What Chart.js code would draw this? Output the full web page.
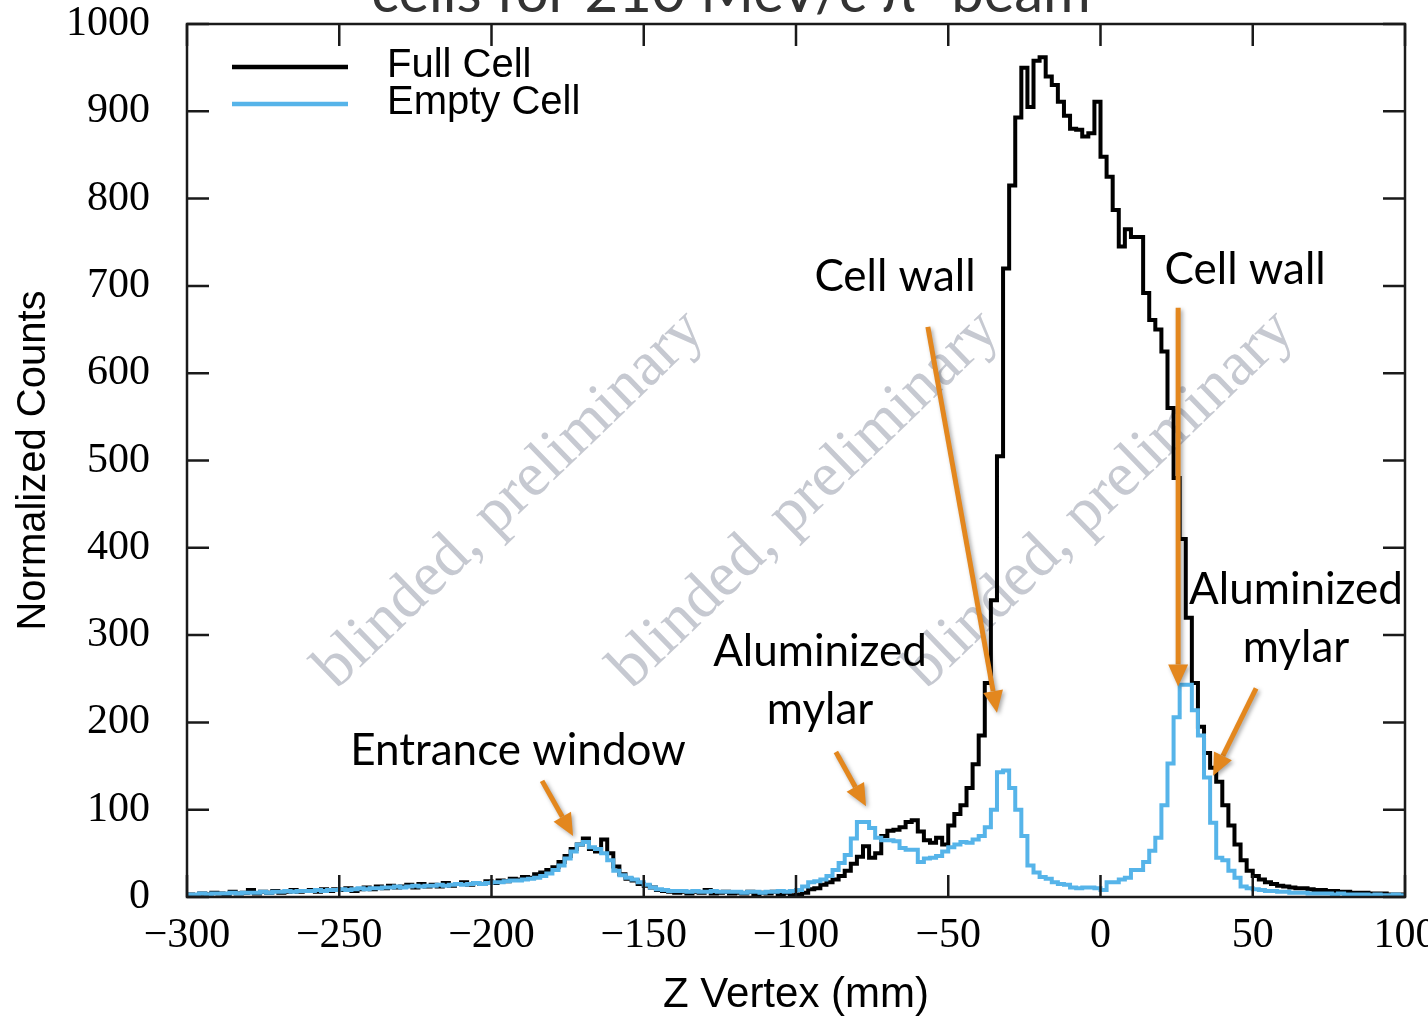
<!DOCTYPE html>
<html>
<head>
<meta charset="utf-8">
<script src="https://cdn.jsdelivr.net/npm/chart.js@4.4.0/dist/chart.umd.min.js"></script>
<style>
  html, body { margin: 0; padding: 0; background: #fff; }
  canvas { display: block; }
</style>
</head>
<body>
<canvas id="vertexChart" width="1428" height="1017"></canvas>
<script>
// histogram binning (mm)
const zStart = -300;
const binWidth = 2;

const xTicks = [-300, -250, -200, -150, -100, -50, 0, 50, 100];
const yTicks = [0, 100, 200, 300, 400, 500, 600, 700, 800, 900, 1000];

// normalized counts per 2 mm bin
const fullCell = [
  3, 2, 4, 3, 5, 4, 3, 6, 4, 5,            // -300
  8, 4, 6, 5, 7, 5, 6, 8, 6, 7,            // -280
  8, 6, 9, 7, 9, 8, 10, 7, 9, 11,          // -260
  9, 12, 10, 13, 11, 12, 14, 11, 15, 12,   // -240
  14, 12, 16, 13, 15, 17, 14, 16, 15, 18,  // -220
  16, 19, 18, 21, 20, 23, 22, 26, 28, 31,  // -200
  34, 40, 47, 55, 60, 67, 55, 52, 66, 50,  // -180
  35, 26, 21, 19, 15, 13, 11, 8, 7, 6,     // -160
  5, 6, 4, 6, 5, 8, 4, 5, 6, 4,            // -140
  5, 4, 6, 3, 5, 4, 6, 3, 5, 2,            // -120
  3, 5, 9, 10, 14, 17, 20, 24, 30, 38,     // -100
  46, 58, 45, 50, 70, 76, 77, 80, 86, 88,  // -80
  75, 65, 62, 68, 60, 82, 95, 105, 125, 152,        // -60
  185, 245, 340, 505, 720, 815, 893, 950, 905, 958, // -40
  962, 940, 930, 911, 895, 880, 879, 871, 875, 911, // -20
  848, 825, 787, 745, 765, 756, 756, 692, 661, 650, // 0
  625, 560, 480, 410, 320, 245, 195, 165, 148, 132, // 20
  105, 82, 60, 42, 30, 24, 20, 17, 15, 13, // 40
  12, 11, 10, 10, 9, 8, 8, 7, 7, 6,        // 60
  6, 5, 5, 5, 4, 4, 4, 3, 3, 3             // 80
];

const emptyCell = [
  3, 3, 4, 3, 4, 4, 4, 5, 4, 5,            // -300
  5, 5, 6, 5, 6, 6, 7, 6, 7, 7,            // -280
  7, 8, 7, 8, 8, 9, 8, 9, 10, 9,           // -260
  10, 10, 11, 11, 12, 11, 12, 13, 12, 13,  // -240
  13, 14, 13, 14, 15, 14, 15, 16, 15, 16,  // -220
  17, 17, 18, 19, 19, 20, 21, 22, 24, 27,  // -200
  31, 36, 44, 52, 60, 63, 57, 55, 50, 42,  // -180
  30, 25, 22, 20, 17, 14, 11, 9, 8, 7,     // -160
  7, 7, 6, 7, 6, 6, 7, 6, 6, 6,            // -140
  6, 5, 6, 6, 5, 6, 6, 7, 6, 7,            // -120
  8, 12, 17, 18, 20, 24, 31, 39, 48, 67,   // -100
  86, 86, 79, 68, 65, 65, 64, 56, 54, 54,  // -80
  40, 44, 45, 47, 52, 57, 60, 63, 62, 66,  // -60
  70, 80, 100, 143, 145, 125, 100, 70, 36, 28,      // -40
  23, 21, 17, 15, 14, 11, 10, 11, 11, 10,           // -20
  8, 17, 17, 20, 22, 31, 31, 40, 53, 68,            // 0
  105, 153, 206, 243, 243, 214, 185, 137, 85, 45,   // 20
  42, 30, 22, 12, 10, 9, 8, 7, 7, 6,       // 40
  6, 5, 5, 5, 4, 4, 4, 4, 3, 4,            // 60
  3, 3, 3, 3, 2, 3, 2, 2, 3, 2             // 80
];

// annotation layout, in data coordinates (z, counts)
const labels = [
  { text: 'Cell wall', z: -67.5, v: 710 },
  { text: 'Cell wall', z: 47.5, v: 719 },
  { text: 'Aluminized', z: -92.1, v: 281 },
  { text: 'mylar', z: -92.1, v: 214 },
  { text: 'Entrance window', z: -191.3, v: 168 },
  { text: 'Aluminized', z: 64.2, v: 352 },
  { text: 'mylar', z: 64.2, v: 285 }
];
const arrows = [
  { from: [-183.4, 133], to: [-173.2, 70] },
  { from: [-86.9, 166], to: [-77, 104] },
  { from: [-56.7, 653], to: [-34, 211] },
  { from: [25.5, 675], to: [25.5, 241] },
  { from: [51.1, 239], to: [37, 139] }
];
const watermarks = [[-193.9, 455], [-97, 455], [-0.2, 455]];

function histPoints(counts) {
  const pts = counts.map((v, i) => ({ x: zStart + i * binWidth, y: v }));
  pts.push({ x: zStart + counts.length * binWidth, y: counts[counts.length - 1] });
  return pts;
}

const serif = '"Liberation Serif", "DejaVu Serif", serif';
const sans = '"Liberation Sans", "DejaVu Sans", sans-serif';
const calib = 'Lato, "Open Sans", sans-serif';
const orange = '#e3871e';

function drawArrow(ctx, x1, y1, x2, y2) {
  const ang = Math.atan2(y2 - y1, x2 - x1);
  const head = 22, half = 10;
  const bx = x2 - Math.cos(ang) * head, by = y2 - Math.sin(ang) * head;
  ctx.save();
  ctx.shadowColor = 'rgba(0,0,0,0.35)';
  ctx.shadowBlur = 4;
  ctx.shadowOffsetX = 2;
  ctx.shadowOffsetY = 2;
  ctx.strokeStyle = orange;
  ctx.fillStyle = orange;
  ctx.lineWidth = 5;
  ctx.beginPath();
  ctx.moveTo(x1, y1);
  ctx.lineTo(bx, by);
  ctx.stroke();
  ctx.beginPath();
  ctx.moveTo(x2, y2);
  ctx.lineTo(bx + Math.sin(ang) * half, by - Math.cos(ang) * half);
  ctx.lineTo(bx - Math.sin(ang) * half, by + Math.cos(ang) * half);
  ctx.closePath();
  ctx.fill();
  ctx.restore();
}

const decor = {
  id: 'decor',
  beforeDatasetsDraw(chart) {
    const { ctx, scales: { x, y } } = chart;
    ctx.save();
    ctx.font = '63px ' + serif;
    ctx.fillStyle = '#c6c9d1';
    ctx.textAlign = 'center';
    ctx.textBaseline = 'middle';
    watermarks.forEach(([z, v]) => {
      ctx.save();
      ctx.translate(x.getPixelForValue(z), y.getPixelForValue(v));
      ctx.rotate(-44 * Math.PI / 180);
      ctx.fillText('blinded, preliminary', 0, 0);
      ctx.restore();
    });
    ctx.restore();
  },
  afterDatasetsDraw(chart) {
    const { ctx, chartArea: a, scales: { x, y } } = chart;
    ctx.save();
    // frame and inward ticks
    ctx.strokeStyle = '#1a1a1a';
    ctx.lineWidth = 2.5;
    ctx.strokeRect(a.left, a.top, a.right - a.left, a.bottom - a.top);
    const tl = 22;
    ctx.beginPath();
    xTicks.forEach(t => {
      const px = x.getPixelForValue(t);
      ctx.moveTo(px, a.bottom); ctx.lineTo(px, a.bottom - tl);
      ctx.moveTo(px, a.top); ctx.lineTo(px, a.top + tl);
    });
    yTicks.forEach(t => {
      const py = y.getPixelForValue(t);
      ctx.moveTo(a.left, py); ctx.lineTo(a.left + tl, py);
      ctx.moveTo(a.right, py); ctx.lineTo(a.right - tl, py);
    });
    ctx.stroke();

    // legend
    ctx.font = '40px ' + sans;
    ctx.textAlign = 'left';
    ctx.textBaseline = 'middle';
    chart.data.datasets.forEach((ds, i) => {
      const ly = 67 + i * 37;
      ctx.strokeStyle = ds.borderColor;
      ctx.lineWidth = 4.5;
      ctx.beginPath();
      ctx.moveTo(232, ly); ctx.lineTo(348, ly);
      ctx.stroke();
      ctx.fillStyle = '#000';
      ctx.fillText(ds.label, 387, ly - 1);
    });

    // annotations
    ctx.font = '44px ' + calib;
    ctx.textAlign = 'center';
    ctx.fillStyle = '#000';
    labels.forEach(l => ctx.fillText(l.text, x.getPixelForValue(l.z), y.getPixelForValue(l.v)));
    arrows.forEach(ar => drawArrow(ctx,
      x.getPixelForValue(ar.from[0]), y.getPixelForValue(ar.from[1]),
      x.getPixelForValue(ar.to[0]), y.getPixelForValue(ar.to[1])));

    // clipped slide title
    ctx.font = '58px ' + calib;
    ctx.fillStyle = '#333';
    ctx.textBaseline = 'alphabetic';
    ctx.fillText('cells for 210 MeV/c \u03c0\u207b beam', 731, 12);
    ctx.restore();
  }
};

new Chart(document.getElementById('vertexChart'), {
  type: 'line',
  data: {
    datasets: [
      { label: 'Full Cell', data: histPoints(fullCell), borderColor: '#000000',
        borderWidth: 4, stepped: true, pointRadius: 0, fill: false, order: 2 },
      { label: 'Empty Cell', data: histPoints(emptyCell), borderColor: '#56b4e9',
        borderWidth: 4, stepped: true, pointRadius: 0, fill: false, order: 1 }
    ]
  },
  options: {
    responsive: false,
    animation: false,
    devicePixelRatio: 1,
    layout: { padding: { top: 24, right: 23, left: 0, bottom: 0 } },
    plugins: { legend: { display: false }, tooltip: { enabled: false } },
    scales: {
      x: {
        type: 'linear', min: -300, max: 100,
        afterBuildTicks: s => { s.ticks = xTicks.map(v => ({ value: v })); },
        grid: { display: false, drawTicks: false },
        border: { display: false },
        ticks: {
          font: { family: serif, size: 42 }, color: '#000', padding: 14,
          maxRotation: 0, autoSkip: false,
          callback: v => String(v).replace('-', '\u2212')
        },
        title: { display: true, text: 'Z Vertex (mm)', color: '#000',
          font: { family: sans, size: 42 }, padding: { top: 0, bottom: -4 } },
        afterFit: s => { s.height = 120; s.paddingLeft = 0; s.paddingRight = 0; }
      },
      y: {
        min: 0, max: 1000,
        afterBuildTicks: s => { s.ticks = yTicks.map(v => ({ value: v })); },
        grid: { display: false, drawTicks: false },
        border: { display: false },
        ticks: { font: { family: serif, size: 42 }, color: '#000', padding: 37, autoSkip: false,
          callback: v => String(v) },
        title: { display: true, text: 'Normalized Counts', color: '#000',
          font: { family: sans, size: 40 }, padding: { top: 10, bottom: 0 } },
        afterFit: s => { s.width = 187; s.paddingTop = 0; s.paddingBottom = 0; }
      }
    }
  },
  plugins: [decor]
});
</script>
</body>
</html>
